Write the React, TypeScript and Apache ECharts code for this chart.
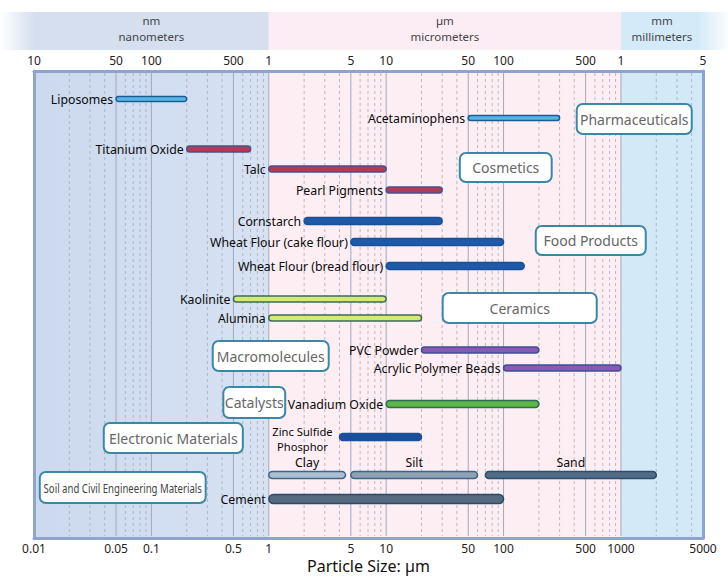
import React, { useEffect, useRef } from "react";
import * as echarts from "echarts";

// ---- data ----
const materials = [
  "Liposomes", "Acetaminophens", "Titanium Oxide", "Talc", "Pearl Pigments",
  "Cornstarch", "Wheat Flour (cake flour)", "Wheat Flour (bread flour)",
  "Kaolinite", "Alumina", "PVC Powder", "Acrylic Polymer Beads",
  "Vanadium Oxide", "Zinc Sulfide\nPhosphor", "Clay", "Silt", "Sand", "Cement",
];
const minSize = [0.05, 50, 0.2, 1, 10, 2, 5, 10, 0.5, 1, 20, 100, 10, 4, 1, 5, 70, 1];
const maxSize = [0.2, 300, 0.7, 10, 30, 30, 100, 150, 10, 20, 200, 1000, 200, 20, 4.5, 60, 2000, 100];
const colorGroup = [0, 0, 1, 1, 1, 2, 2, 2, 3, 3, 4, 4, 5, 6, 7, 8, 9, 10];

const categories = [
  "Pharmaceuticals", "Cosmetics", "Food Products", "Ceramics",
  "Macromolecules", "Catalysts", "Electronic Materials",
  "Soil and Civil Engineering Materials",
];
const categoryFrom = [420, 42.4, 188, 30.3, 0.333, 0.41, 0.0393, 0.0112];
const categoryTo = [4010, 257, 1626, 622, 3.24, 1.38, 0.601, 0.29];

const tickValues = [0.01, 0.05, 0.1, 0.5, 1, 5, 10, 50, 100, 500, 1000, 5000];
const bottomTickLabels = ["0.01", "0.05", "0.1", "0.5", "1", "5", "10", "50", "100", "500", "1000", "5000"];
const topTickLabels = ["10", "50", "100", "500", "1", "5", "10", "50", "100", "500", "1", "5"];

const solidGrid = [0.05, 0.1, 0.5, 1, 5, 10, 50, 100, 500, 1000];
const dashedGrid = [
  0.02, 0.03, 0.04, 0.06, 0.07, 0.08, 0.09,
  0.2, 0.3, 0.4, 0.6, 0.7, 0.8, 0.9,
  2, 3, 4, 6, 7, 8, 9,
  20, 30, 40, 60, 70, 80, 90,
  200, 300, 400, 600, 700, 800, 900,
  2000, 3000, 4000,
];

const unitFrom = [0.01, 1, 1000];
const unitTo = [1, 1000, 5000];
const unitShort = ["nm", "µm", "mm"];
const unitLong = ["nanometers", "micrometers", "millimeters"];

// ---- layout / style ----
const Y_MIN = 71;
const Y_MAX = 538;
const rowPos = [99, 118, 149, 169, 190, 221, 242, 266, 299, 318, 350, 368, 404, 437, 475, 475, 475, 499];
const rowThick = [5, 5, 6, 6, 6, 7, 7, 7, 6, 6, 6, 6, 7, 7, 7, 7, 7, 9];
const labelMode = ["left", "left", "left", "left", "left", "left", "left", "left", "left", "left", "left", "left", "left", "stack", "above", "above", "above", "left"];
const groupFill = ["#55b6e6", "#b63a56", "#1f5aa8", "#d6ea6c", "#8a5ab3", "#5cb648", "#1b4f9d", "#adc0d3", "#8fa1b3", "#536c86", "#56697f"];
const groupStroke = ["#1e5b94", "#4b4f8c", "#1a4f94", "#3e6a5e", "#3e4f96", "#2f6b50", "#1b4f9d", "#3f6487", "#3f6487", "#2c4d6e", "#2c4a68"];
const categoryY = [119, 167.5, 240.5, 308, 356, 402.5, 438, 487.5];
const categoryH = [30, 29, 29, 30, 30, 31, 30, 31];
const regionFill = ["#d5e1f2", "#fdeef4", "#d3e9f8"];
const headerFill = ["#d5dff0", "#fcedf4", "#d4eaf8"];
const FONT = "'Noto Sans', 'Open Sans', sans-serif";
const LABEL_FONT = `12.3px ${FONT}`;

export default function App() {
  const ref = useRef<HTMLDivElement>(null);
  useEffect(() => {
    const chart = echarts.init(ref.current!, null, { renderer: "svg" });

    const option: any = {
      animation: false,
      backgroundColor: "#ffffff",
      grid: { left: 34, right: 25, top: Y_MIN, bottom: 583 - Y_MAX },
      xAxis: [
        {
          type: "log",
          logBase: 10,
          min: 0.01,
          max: 5000,
          position: "bottom",
          axisLine: { show: true, lineStyle: { color: "#8ea4cf", width: 3 } },
          axisTick: { show: false },
          axisLabel: { show: false },
          splitLine: { show: false },
          name: "Particle Size: µm",
          nameLocation: "middle",
          nameGap: 20,
          nameTextStyle: { fontSize: 16, color: "#111", fontFamily: FONT },
        },
        {
          type: "log",
          logBase: 10,
          min: 0.01,
          max: 5000,
          position: "top",
          axisLine: { show: true, lineStyle: { color: "#8ea4cf", width: 3 } },
          axisTick: { show: false },
          axisLabel: { show: false },
          splitLine: { show: false },
        },
      ],
      yAxis: [
        {
          type: "value",
          inverse: true,
          min: Y_MIN,
          max: Y_MAX,
          position: "left",
          axisLine: { show: true, lineStyle: { color: "#8ea4cf", width: 3 } },
          axisTick: { show: false },
          axisLabel: { show: false },
          splitLine: { show: false },
        },
        {
          type: "value",
          inverse: true,
          min: Y_MIN,
          max: Y_MAX,
          position: "right",
          axisLine: { show: true, lineStyle: { color: "#8ea4cf", width: 3 } },
          axisTick: { show: false },
          axisLabel: { show: false },
          splitLine: { show: false },
        },
      ],
      series: [
        // region backgrounds
        {
          type: "custom",
          z: 0,
          silent: true,
          data: unitFrom.map((f, i) => [f, unitTo[i], Y_MIN, Y_MAX, i]),
          encode: { x: [0, 1], y: [2, 3] },
          renderItem: (params: any, api: any) => {
            const i = api.value(4);
            const p0 = api.coord([api.value(0), Y_MIN]);
            const p1 = api.coord([api.value(1), Y_MAX]);
            const fill =
              i === 0
                ? new echarts.graphic.LinearGradient(0, 0, 1, 0, [
                    { offset: 0, color: "#ccd9ee" },
                    { offset: 1, color: "#d7e2f3" },
                  ])
                : regionFill[i];
            return {
              type: "rect",
              shape: { x: p0[0], y: p0[1], width: p1[0] - p0[0], height: p1[1] - p0[1] },
              style: { fill },
            };
          },
        },
        // header bands
        {
          type: "custom",
          z: 0,
          silent: true,
          data: unitFrom.map((f, i) => [f, unitTo[i], Y_MIN, i]),
          encode: { x: [0, 1], y: 2 },
          renderItem: (params: any, api: any) => {
            const i = api.value(3);
            const p0 = api.coord([api.value(0), Y_MIN]);
            const p1 = api.coord([api.value(1), Y_MIN]);
            const cx = (p0[0] + p1[0]) / 2;
            let x0 = p0[0];
            let x1 = p1[0];
            let fill: any = headerFill[i];
            if (i === 0) {
              x0 = 0;
              fill = new echarts.graphic.LinearGradient(0, 0, 1, 0, [
                { offset: 0, color: "rgba(213,223,240,0)" },
                { offset: 0.13, color: headerFill[0] },
                { offset: 1, color: headerFill[0] },
              ]);
            }
            if (i === 2) {
              x1 = api.getWidth();
              fill = new echarts.graphic.LinearGradient(0, 0, 1, 0, [
                { offset: 0, color: headerFill[2] },
                { offset: 0.72, color: headerFill[2] },
                { offset: 1, color: "rgba(212,234,248,0.1)" },
              ]);
            }
            const top = p0[1] - 59;
            return {
              type: "group",
              children: [
                {
                  type: "rect",
                  shape: { x: x0, y: top, width: x1 - x0, height: 38 },
                  style: { fill },
                },
                {
                  type: "text",
                  style: {
                    text: unitShort[i],
                    x: cx,
                    y: top + 8.5,
                    align: "center",
                    verticalAlign: "middle",
                    fill: "#444",
                    font: `11.5px ${FONT}`,
                  },
                },
                {
                  type: "text",
                  style: {
                    text: unitLong[i],
                    x: cx,
                    y: top + 24.8,
                    align: "center",
                    verticalAlign: "middle",
                    fill: "#444",
                    font: `11.5px ${FONT}`,
                  },
                },
              ],
            };
          },
        },
        // grid lines
        {
          type: "custom",
          z: 1,
          silent: true,
          data: [
            ...dashedGrid.map((v) => [v, Y_MIN, 0]),
            ...solidGrid.map((v) => [v, Y_MIN, 1]),
          ],
          encode: { x: 0, y: 1 },
          renderItem: (params: any, api: any) => {
            const solid = api.value(2) === 1;
            const p0 = api.coord([api.value(0), Y_MIN]);
            const p1 = api.coord([api.value(0), Y_MAX]);
            return {
              type: "line",
              shape: { x1: p0[0], y1: p0[1] + 2, x2: p1[0], y2: p1[1] - 2 },
              style: solid
                ? { stroke: "#a3a8b8", lineWidth: 1 }
                : { stroke: "#a8aab6", lineWidth: 0.8, lineDash: [3, 3] },
            };
          },
        },
        // tick labels (top & bottom)
        {
          type: "custom",
          z: 2,
          silent: true,
          data: tickValues.map((v, i) => [v, Y_MIN, i]),
          encode: { x: 0, y: 1 },
          renderItem: (params: any, api: any) => {
            const i = api.value(2);
            const pt = api.coord([api.value(0), Y_MIN]);
            const pb = api.coord([api.value(0), Y_MAX]);
            return {
              type: "group",
              children: [
                {
                  type: "text",
                  style: {
                    text: topTickLabels[i],
                    x: pt[0],
                    y: pt[1] - 11,
                    align: "center",
                    verticalAlign: "middle",
                    fill: "#222",
                    font: `12px ${FONT}`,
                  },
                },
                {
                  type: "text",
                  style: {
                    text: bottomTickLabels[i],
                    x: pb[0],
                    y: pb[1] + 10,
                    align: "center",
                    verticalAlign: "middle",
                    fill: "#222",
                    font: `12px ${FONT}`,
                  },
                },
              ],
            };
          },
        },
        // range bars
        {
          type: "custom",
          z: 3,
          data: materials.map((m, i) => [minSize[i], maxSize[i], rowPos[i], i]),
          encode: { x: [0, 1], y: 2 },
          renderItem: (params: any, api: any) => {
            const i = api.value(3);
            const p0 = api.coord([api.value(0), api.value(2)]);
            const p1 = api.coord([api.value(1), api.value(2)]);
            const h = rowThick[i];
            const g = colorGroup[i];
            const mode = labelMode[i];
            const labels: any[] = [];
            if (mode === "left") {
              labels.push({
                text: materials[i],
                x: p0[0] - 3,
                y: p0[1],
                align: "right",
                verticalAlign: "middle",
                font: LABEL_FONT,
              });
            } else if (mode === "above") {
              labels.push({
                text: materials[i],
                x: (p0[0] + p1[0]) / 2,
                y: p0[1] - h / 2 - 3,
                align: "center",
                verticalAlign: "bottom",
                font: LABEL_FONT,
              });
            } else {
              const lines = materials[i].split("\n");
              lines.forEach((ln, k) => {
                labels.push({
                  text: ln,
                  x: p0[0] - 37,
                  y: p0[1] - 6 + k * 15.2,
                  align: "center",
                  verticalAlign: "middle",
                  font: `11.2px ${FONT}`,
                });
              });
            }
            return {
              type: "group",
              children: [
                {
                  type: "rect",
                  shape: { x: p0[0], y: p0[1] - h / 2, width: p1[0] - p0[0], height: h, r: h / 2 },
                  style: { fill: groupFill[g], stroke: groupStroke[g], lineWidth: 1.5 },
                },
                ...labels.map((lb) => ({
                  type: "text",
                  style: { ...lb, fill: "#0a0a0a" },
                })),
              ],
            };
          },
        },
        // category boxes
        {
          type: "custom",
          z: 4,
          data: categories.map((c, i) => [categoryFrom[i], categoryTo[i], categoryY[i], i]),
          encode: { x: [0, 1], y: 2 },
          renderItem: (params: any, api: any) => {
            const i = api.value(3);
            const p0 = api.coord([api.value(0), api.value(2)]);
            const p1 = api.coord([api.value(1), api.value(2)]);
            const h = categoryH[i];
            const condensed = i === 7;
            return {
              type: "group",
              children: [
                {
                  type: "rect",
                  shape: { x: p0[0], y: p0[1] - h / 2, width: p1[0] - p0[0], height: h, r: 6 },
                  style: { fill: "#ffffff", stroke: "#3a88a6", lineWidth: 2 },
                },
                {
                  type: "text",
                  x: (p0[0] + p1[0]) / 2,
                  y: p0[1],
                  scaleX: condensed ? 0.74 : 1,
                  style: {
                    text: categories[i],
                    x: 0,
                    y: 0,
                    align: "center",
                    verticalAlign: "middle",
                    fill: condensed ? "#444" : "#666",
                    font: condensed ? `13px ${FONT}` : `14px ${FONT}`,
                  },
                },
              ],
            };
          },
        },
      ],
    };

    chart.setOption(option);
    return () => chart.dispose();
  }, []);

  return (
    <div
      ref={ref}
      style={{ position: "fixed", left: 0, top: 0, width: 728, height: 583 }}
    />
  );
}
